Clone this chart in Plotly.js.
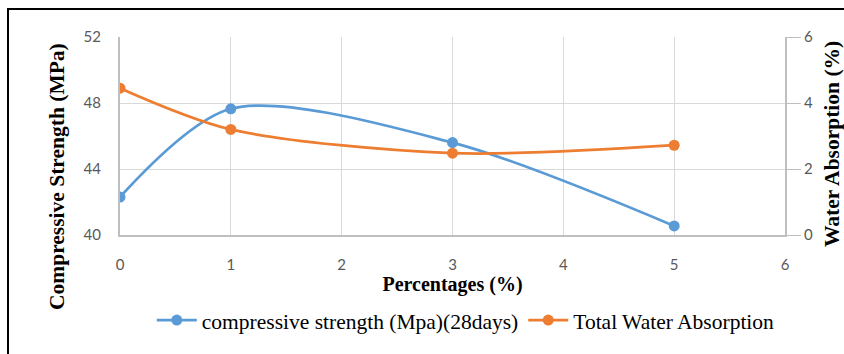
<!DOCTYPE html>
<html><head><meta charset="utf-8">
<script src="https://cdn.plot.ly/plotly-3.0.1.min.js"></script>
<style>html,body{margin:0;padding:0;background:#fff}#chart{width:844px;height:354px}</style>
</head><body><div id="chart"></div>
<script>
const percentages = [0, 1, 3, 5];
const compressiveStrength = [42.3, 47.65, 45.6, 40.55];
const waterAbsorption = [4.45, 3.2, 2.48, 2.72];
const xTicks = [0, 1, 2, 3, 4, 5, 6];
const yLeftTicks = [40, 44, 48, 52];
const yRightTicks = [0, 2, 4, 6];

const serif = "Liberation Serif";
const tickFont = {family: "Lato", size: 15, color: "#595959"};
const titleFont = {family: serif, size: 21.5, color: "#000", weight: "bold"};

const traces = [
  {x: percentages, y: compressiveStrength, name: "compressive strength (Mpa)(28days)",
   type: "scatter", mode: "lines+markers", line: {color: "#5b9bd5", width: 2.75, shape: "spline", smoothing: 0.85},
   marker: {color: "#5b9bd5", size: 11}},
  {x: percentages, y: waterAbsorption, name: "Total Water Absorption", yaxis: "y2",
   type: "scatter", mode: "lines+markers", line: {color: "#ed7d31", width: 2.75, shape: "spline", smoothing: 0.85},
   marker: {color: "#ed7d31", size: 11}}
];

const layout = {
  width: 844, height: 354,
  margin: {l: 120, r: 59, t: 37, b: 119},
  paper_bgcolor: "#fff", plot_bgcolor: "#fff",
  font: {family: serif},
  showlegend: true,
  legend: {orientation: "h", x: 0.52, xanchor: "center", y: -0.43, yanchor: "middle",
           font: {family: serif, size: 21.5, color: "#000"}, itemwidth: 40},
  xaxis: {range: [0, 6], tickvals: xTicks, ticktext: xTicks.map(String), showgrid: true, gridcolor: "#d9d9d9",
          zeroline: false, showline: true, linecolor: "#bfbfbf", linewidth: 2,
          tickfont: tickFont, ticks: "outside", ticklen: 15, tickcolor: "rgba(0,0,0,0)",
          title: {text: "Percentages (%)", font: {family: serif, size: 20, color: "#000", weight: "bold"}, standoff: 0},
          fixedrange: true},
  yaxis: {range: [40, 52], tickvals: yLeftTicks, showgrid: true, gridcolor: "#d9d9d9",
          zeroline: false, showline: true, linecolor: "#bfbfbf", linewidth: 2,
          tickfont: tickFont, ticks: "outside", ticklen: 14, tickcolor: "rgba(0,0,0,0)"},
  yaxis2: {range: [0, 6], tickvals: yRightTicks, overlaying: "y", side: "right", showgrid: false,
          zeroline: false, showline: true, linecolor: "#bfbfbf", linewidth: 2,
          tickfont: tickFont, ticks: "outside", ticklen: 14, tickcolor: "#bfbfbf"},
  annotations: [
    {text: "Compressive Strength (MPa)", xref: "paper", yref: "paper", x: (57 - 120) / 665, y: (235 - 177) / 198,
     xanchor: "center", yanchor: "middle", textangle: -90, showarrow: false, font: titleFont},
    {text: "Water Absorption (%)", xref: "paper", yref: "paper", x: (832 - 120) / 665, y: (235 - 144) / 198,
     xanchor: "center", yanchor: "middle", textangle: -90, showarrow: false, font: titleFont}
  ],
  shapes: [{type: "rect", xref: "paper", yref: "paper", x0: -112/665, x1: 1.2, y0: -1.0, y1: 28/198 + 1,
            line: {color: "#000", width: 2}, fillcolor: "rgba(0,0,0,0)", layer: "below"}]
};

Plotly.newPlot("chart", traces, layout, {displayModeBar: false, staticPlot: true});
</script></body></html>
